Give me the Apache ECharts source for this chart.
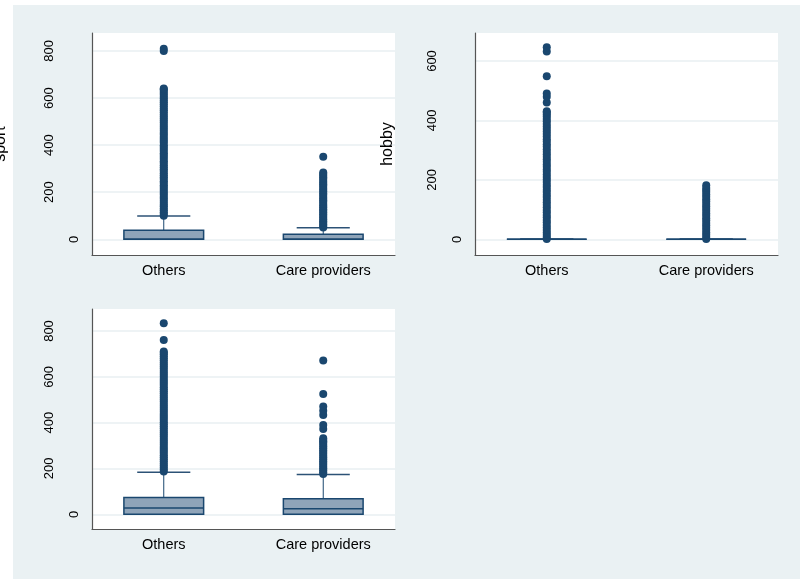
<!DOCTYPE html>
<html><head><meta charset="utf-8">
<script src="https://cdn.jsdelivr.net/npm/echarts@6/dist/echarts.min.js"></script>
<style>html,body{margin:0;padding:0;background:#fff}#c{width:802px;height:580px}</style>
</head><body><div id="c"></div>
<script>
// ---------- data ----------
const categories = ['Others', 'Care providers'];
const sportTicks = [0, 200, 400, 600, 800];
const hobbyTicks = [0, 200, 400, 600];
const thirdTicks = [0, 200, 400, 600, 800];

// box stats: [lower whisker, Q1, median, Q3, upper whisker]
const sportOthersBox = [0, 0, 0, 38, 99];
const sportCareBox   = [0, 0, 0, 21, 49];
const hobbyOthersBox = [0, 0, 0, 0, 0];
const hobbyCareBox   = [0, 0, 0, 0, 0];
const thirdOthersBox = [0, 0, 27, 73, 184];
const thirdCareBox   = [0, 0, 24, 68, 174];

// outside values
const sportOthersOut = [100,108,115,123,131,140,147,155,164,172,180,189,197,205,214,222,230,239,247,256,264,272,281,290,298,306,315,324,332,341,350,358,366,375,384,392,400,410,418,426,435,444,452,461,470,478,487,496,505,513,522,530,540,548,556,565,574,582,590,598,606,614,622,630,637,641,800,810];
const sportCareOut = [50,57,63,70,77,84,92,99,106,114,121,128,136,143,150,158,165,172,180,188,195,203,210,218,226,233,240,248,256,263,270,277,284,351];
const hobbyOthersOut = [1,8,15,23,31,40,48,57,65,74,82,91,99,108,116,125,133,142,150,159,167,176,184,193,201,210,218,227,235,244,252,261,269,278,286,295,303,312,320,329,337,346,354,363,371,380,388,397,405,413,420,427,431,460,480,491,549,632,646];
const hobbyCareOut = [1,8,15,23,31,39,47,55,63,71,79,87,95,103,111,119,127,135,143,151,159,166,173,182];
const thirdOthersOut = [187,195,204,213,222,231,240,249,258,267,276,285,294,303,312,321,330,339,348,357,366,375,384,393,402,411,420,429,438,447,456,465,474,483,492,501,510,519,528,537,546,555,564,573,582,591,600,609,618,627,636,645,654,663,672,681,690,698,705,710,761,834];
const thirdCareOut = [176,184,192,200,208,216,224,232,240,248,256,264,272,280,288,296,304,312,318,324,332,372,390,433,452,470,525,671];

// ---------- layout / styles ----------
const FONT = '"Liberation Sans", Arial, Helvetica, sans-serif';
const NAVY = '#1a476f';
const BG = '#eaf1f3';
const GRIDLINE = '#e8eff2';
const AXIS = '#555555';

const panels = [
  {grid: {left: 92, top: 33, width: 303, height: 222}, min: -66.7, max: 876.4, ticks: sportTicks,
   name: 'sport', nameGap: 83, box: [sportOthersBox, sportCareBox], out: [sportOthersOut, sportCareOut]},
  {grid: {left: 475, top: 33, width: 303, height: 222}, min: -52.8, max: 694.2, ticks: hobbyTicks,
   name: 'hobby', nameGap: 79, box: [hobbyOthersBox, hobbyCareBox], out: [hobbyOthersOut, hobbyCareOut]},
  {grid: {left: 92, top: 309, width: 303, height: 220}, min: -64.2, max: 896, ticks: thirdTicks,
   name: '', nameGap: 83, box: [thirdOthersBox, thirdCareBox], out: [thirdOthersOut, thirdCareOut]}
];

function renderBox(params, api) {
  const x = api.value(0);
  const lo = api.coord([x, api.value(1)]);
  const q1 = api.coord([x, api.value(2)]);
  const md = api.coord([x, api.value(3)]);
  const q3 = api.coord([x, api.value(4)]);
  const hi = api.coord([x, api.value(5)]);
  const bw = api.size([0.5, 0])[0];
  const cw = api.size([0.333, 0])[0];
  const cx = q1[0];
  return {type: 'group', children: [
    {type: 'line', shape: {x1: cx, y1: q3[1], x2: cx, y2: hi[1]}, style: {stroke: NAVY, lineWidth: 1}},
    {type: 'line', shape: {x1: cx, y1: lo[1], x2: cx, y2: q1[1]}, style: {stroke: NAVY, lineWidth: 1}},
    {type: 'line', shape: {x1: cx - cw / 2, y1: hi[1], x2: cx + cw / 2, y2: hi[1]}, style: {stroke: '#2c5276', lineWidth: 1.5}},
    {type: 'line', shape: {x1: cx - cw / 2, y1: lo[1], x2: cx + cw / 2, y2: lo[1]}, style: {stroke: '#2c5276', lineWidth: 1.5}},
    {type: 'rect', shape: {x: cx - bw / 2, y: q3[1], width: bw, height: q1[1] - q3[1]}, style: {fill: '#8fa4b9', stroke: NAVY, lineWidth: 1.5}},
    {type: 'line', shape: {x1: cx - bw / 2, y1: md[1], x2: cx + bw / 2, y2: md[1]}, style: {stroke: NAVY, lineWidth: 1.5}}
  ]};
}

const grids = [], xAxes = [], yAxes = [], series = [];
panels.forEach((p, i) => {
  grids.push(Object.assign({show: true, backgroundColor: '#ffffff', borderWidth: 0,
    containLabel: false, outerBoundsMode: 'none'}, p.grid));
  xAxes.push({
    gridIndex: i, type: 'value', min: 0.55, max: 2.45,
    axisLine: {show: true, onZero: false, lineStyle: {color: AXIS, width: 1.2}},
    axisTick: {show: false}, splitLine: {show: false},
    axisLabel: {customValues: [1, 2], formatter: v => categories[Math.round(v) - 1],
      fontSize: 14.5, color: '#000', margin: 8, fontFamily: FONT}
  });
  yAxes.push({
    gridIndex: i, type: 'value', position: 'left', min: p.min, max: p.max,
    name: p.name, nameLocation: 'middle', nameGap: p.nameGap,
    nameTextStyle: {fontSize: 16, color: '#000', fontFamily: FONT},
    axisLine: {show: true, onZero: false, lineStyle: {color: AXIS, width: 1.2}},
    axisTick: {show: false, customValues: p.ticks},
    splitLine: {show: true, lineStyle: {color: GRIDLINE, width: 1.5}},
    axisLabel: {customValues: p.ticks.filter(v => v !== 0), rotate: 90, margin: 36,
      fontSize: 13, color: '#000', fontFamily: FONT}
  });
  yAxes.push({
    gridIndex: i, type: 'value', position: 'left', min: p.min, max: p.max,
    axisLine: {show: false}, axisTick: {show: false, customValues: [0]}, splitLine: {show: false},
    axisLabel: {customValues: [0], rotate: 90, margin: 11, fontSize: 13, color: '#000', fontFamily: FONT}
  });
  series.push({
    type: 'custom', xAxisIndex: i, yAxisIndex: 2 * i, renderItem: renderBox, silent: true,
    data: [[1].concat(p.box[0]), [2].concat(p.box[1])]
  });
  series.push({
    type: 'scatter', xAxisIndex: i, yAxisIndex: 2 * i, symbolSize: 8, silent: true, clip: false,
    itemStyle: {color: NAVY, opacity: 1},
    data: p.out[0].map(v => [1, v]).concat(p.out[1].map(v => [2, v]))
  });
});

const chart = echarts.init(document.getElementById('c'), null, {renderer: 'canvas'});
chart.setOption({
  animation: false,
  backgroundColor: '#ffffff',
  graphic: [{type: 'rect', z: -100, silent: true, shape: {x: 13, y: 5, width: 787, height: 574}, style: {fill: BG}}],
  grid: grids, xAxis: xAxes, yAxis: yAxes, series: series
});
</script></body></html>
